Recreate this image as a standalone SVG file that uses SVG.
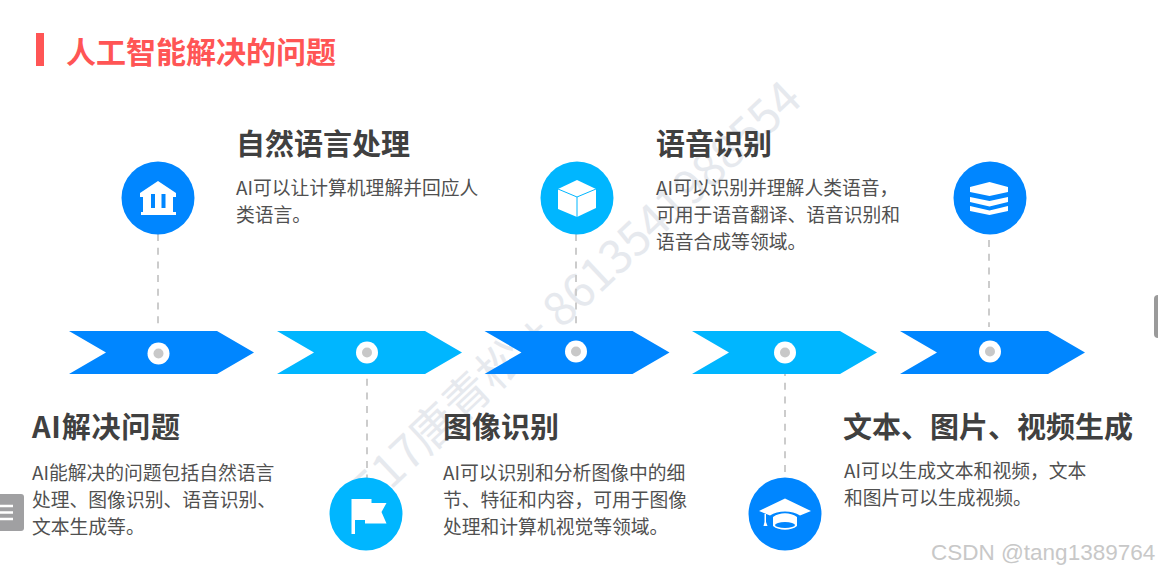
<svg xmlns="http://www.w3.org/2000/svg" width="1158" height="572" viewBox="0 0 1158 572">
<defs>
<style>
text{font-family:"Noto Sans CJK SC","Liberation Sans",sans-serif}
.h{font-size:29px;font-weight:700;fill:#404040}
.b{font-size:18.800px;fill:#505050}
.wm{font-size:46px;fill:#e6e9ee}
.dash{stroke:#cccccc;stroke-width:2;stroke-dasharray:7 6.700;fill:none}
.blue{fill:#0086ff}.cyan{fill:#00b6ff}
.w{fill:#fff}
</style>
<path id="chev" d="M0 0H148L185 21.500L148 43H0L37 21.500Z"/>
</defs>
<rect width="1158" height="572" fill="#fff"/>
<text class="wm" transform="translate(372 508) rotate(-43.200)">517唐青松 + 8613541988554</text>
<g id="title"><rect x="36" y="33" width="8" height="33" fill="#ff5555"/><text x="66" y="63" font-size="30" font-weight="700" fill="#ff5555">人工智能解决的问题</text></g>
<g id="connectors">
<line class="dash" x1="158" y1="234" x2="158" y2="330"/>
<line class="dash" x1="367" y1="365" x2="367" y2="478"/>
<line class="dash" x1="576" y1="234" x2="576" y2="330"/>
<line class="dash" x1="785" y1="369" x2="785" y2="478"/>
<line class="dash" x1="989" y1="240" x2="989" y2="327"/>
</g>
<g id="arrow1"><use href="#chev" x="69" y="331" class="blue"/><circle cx="158.500" cy="353.500" r="11" fill="#fff"/><circle cx="158.500" cy="353.500" r="5" fill="#c8c8c8"/></g>
<g id="arrow2"><use href="#chev" x="277" y="331" class="cyan"/><circle cx="367" cy="352.500" r="11" fill="#fff"/><circle cx="367" cy="352.500" r="5" fill="#c8c8c8"/></g>
<g id="arrow3"><use href="#chev" x="484.500" y="331" class="blue"/><circle cx="576" cy="351.500" r="11" fill="#fff"/><circle cx="576" cy="351.500" r="5" fill="#c8c8c8"/></g>
<g id="arrow4"><use href="#chev" x="692" y="331" class="cyan"/><circle cx="785" cy="352.500" r="11" fill="#fff"/><circle cx="785" cy="352.500" r="5" fill="#c8c8c8"/></g>
<g id="arrow5"><use href="#chev" x="900" y="331" class="blue"/><circle cx="990" cy="351.500" r="11" fill="#fff"/><circle cx="990" cy="351.500" r="5" fill="#c8c8c8"/></g>
<g id="icon-bank"><circle cx="158" cy="198" r="36.500" class="blue"/>
<path class="w" d="M158 181L176 193V197H173V212H176V215H141V212H143V197H140V193Z"/><rect x="151" y="194" width="4" height="14" class="blue"/><rect x="161.500" y="194" width="4" height="14" class="blue"/></g>
<g id="icon-flag"><circle cx="366" cy="514" r="36.500" class="cyan"/>
<path class="w" d="M351.500 499H371.500V503H386.500L381.500 512L386.500 523.500H365V520H355V534H351.500Z"/></g>
<g id="icon-cube"><circle cx="577" cy="198" r="36.500" class="cyan"/>
<path class="w" d="M577 180L596 189V208L577 217L558 209V189Z"/><path d="M558 189L577 197L596 189M577 197V217" fill="none" stroke="#00b6ff" stroke-width="1"/></g>
<g id="icon-cap"><circle cx="785" cy="514" r="36.500" class="blue"/>
<path class="w" d="M785 498.500L811 511L800 515.500C792 510 778 510 770 515.500L759 511ZM773 517C780 512 790 512 797 517V526C791 531 779 531 773 526ZM764.500 514H766V522L767.500 526H763.500L764.500 522Z"/><ellipse cx="785" cy="525" rx="10" ry="3" class="blue"/></g>
<g id="icon-stack"><circle cx="990" cy="198" r="36.500" class="blue"/>
<path class="w" d="M989.500 182L1008 187V192L989.500 196L970 192V187ZM970 197L989.500 201L1008 197V202L989.500 206.500L970 202ZM970 206L989.500 210.500L1008 206V211L989.500 215L970 211Z"/></g>
<g id="t2"><text class="h" x="236" y="155">自然语言处理</text><text class="b" x="236" y="195">AI可以让计算机理解并回应人</text><text class="b" x="236" y="222">类语言。</text></g>
<g id="t4"><text class="h" x="656" y="155">语音识别</text><text class="b" x="656" y="195">AI可以识别并理解人类语音，</text><text class="b" x="656" y="222">可用于语音翻译、语音识别和</text><text class="b" x="656" y="249">语音合成等领域。</text></g>
<g id="t1"><text class="h" x="32" y="438" textLength="148">AI解决问题</text><text class="b" x="32" y="480">AI能解决的问题包括自然语言</text><text class="b" x="32" y="507">处理、图像识别、语音识别、</text><text class="b" x="32" y="534">文本生成等。</text></g>
<g id="t3"><text class="h" x="443" y="438">图像识别</text><text class="b" x="443" y="480">AI可以识别和分析图像中的细</text><text class="b" x="443" y="507">节、特征和内容，可用于图像</text><text class="b" x="443" y="534">处理和计算机视觉等领域。</text></g>
<g id="t5"><text class="h" x="843" y="438">文本、图片、视频生成</text><text class="b" x="844" y="478">AI可以生成文本和视频，文本</text><text class="b" x="844" y="505">和图片可以生成视频。</text></g>
<g id="ui"><rect x="-8" y="494" width="32" height="37" rx="3" fill="#a0a0a2"/><path d="M0 506H13M0 512.500H13M0 519H13" stroke="#fff" stroke-width="2.500"/><rect x="1154" y="295" width="12" height="43" rx="4" fill="#9a9a9a"/></g>
<text x="931" y="560" font-size="22.500" style="font-family:'Liberation Sans',sans-serif" fill="#c8c8c8">CSDN @tang1389764</text>
</svg>
